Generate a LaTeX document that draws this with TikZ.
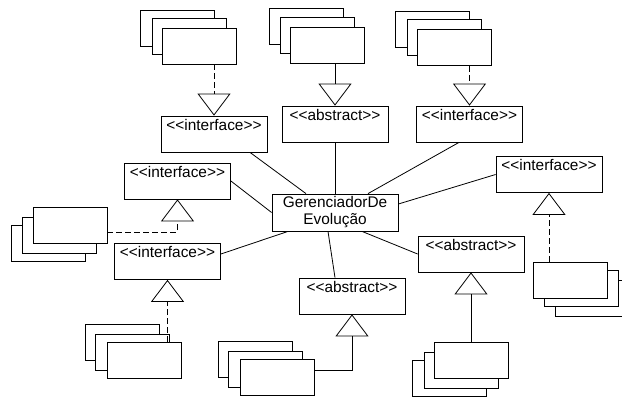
\documentclass[tikz,border=0pt]{standalone}
\usepackage{fontspec}
\newfontfamily\umlfont{Liberation Sans}
\usetikzlibrary{arrows.meta,calc}

\tikzset{
  uml/.style={x=1pt,y=-1pt,line width=0.8pt,font=\umlfont\fontsize{15.4}{17}\selectfont},
  classbox/.style={draw,fill=white,minimum width=106pt,minimum height=36pt,inner sep=0pt,text height=12pt,text depth=20pt},
  implbox/.style={draw,fill=white,minimum width=74pt,minimum height=36pt,inner sep=0pt},
  inherit/.style={-{Triangle[open,width=33pt,length=22pt]}},
  realize/.style={inherit,dash pattern=on 6pt off 3pt},
}

\begin{document}
\begin{tikzpicture}[uml]
\useasboundingbox (0,0) rectangle (622,397);

\node[classbox] (ifTop) at (214,134) {<<interface>>};
\node[classbox] (absTop) at (335,124) {<<abstract>>};
\node[classbox] (ifTopR) at (469.5,124) {<<interface>>};
\node[classbox] (ifLeft) at (177.5,181) {<<interface>>};
\node[classbox] (ifRight) at (549,174.5) {<<interface>>};
\node[classbox] (ifLow) at (167.5,261.5) {<<interface>>};
\node[classbox] (absBot) at (352,296) {<<abstract>>};
\node[classbox] (absBotR) at (471,254) {<<abstract>>};
\node[draw,fill=white,minimum width=126pt,minimum height=37pt,inner sep=0pt,align=center] (hub) at (335,212.5) {GerenciadorDe\\Evolução};

\node[implbox] (ifTopC) at (177,28.5) {};
\node[implbox] (ifTopB) at (189,36) {};
\node[implbox] (ifTopA) at (199,46) {};
\node[implbox] (absTopC) at (306,26.5) {};
\node[implbox] (absTopB) at (317.5,35) {};
\node[implbox] (absTopA) at (327.5,45) {};
\node[implbox] (ifTopRC) at (432,29.5) {};
\node[implbox] (ifTopRB) at (444,37) {};
\node[implbox] (ifTopRA) at (454.5,47.5) {};
\node[implbox] (ifRightC) at (592.5,298) {};
\node[implbox] (ifRightB) at (581.5,288) {};
\node[implbox] (ifRightA) at (570.5,280) {};
\node[implbox] (absBotRC) at (449.5,378) {};
\node[implbox] (absBotRB) at (461,370) {};
\node[implbox] (absBotRA) at (471,360) {};
\node[implbox] (absBotC) at (255,359.5) {};
\node[implbox] (absBotB) at (265,369.5) {};
\node[implbox] (absBotA) at (277,377.5) {};
\node[implbox] (ifLowC) at (122,342.5) {};
\node[implbox] (ifLowB) at (132.5,352.5) {};
\node[implbox] (ifLowA) at (144,360.5) {};
\node[implbox] (ifLeftC) at (48.5,243.5) {};
\node[implbox] (ifLeftB) at (59.5,235) {};
\node[implbox] (ifLeftA) at (70,225) {};

\draw[realize] (ifTopA.south -| ifTop.north) -- (ifTop.north);
\draw[inherit] (absTopA.south -| absTop.north) -- (absTop.north);
\draw[realize] (ifTopRA.south -| ifTopR.north) -- (ifTopR.north);
\draw[realize] (ifRightA.north -| ifRight.south) -- (ifRight.south);
\draw[inherit] (absBotRA.north -| absBotR.south) -- (absBotR.south);
\draw[inherit] ([yshift=7.5pt]absBotA.east) -| (absBot.south);
\draw[realize] (ifLowA.north -| ifLow.south) -- (ifLow.south);
\draw[realize] ([yshift=-7pt]ifLeftA.east) -| (ifLeft.south);

\draw ([xshift=36pt]ifTop.south) -- ([xshift=-29pt]hub.north);
\draw (absTop.south) -- (hub.north);
\draw ([xshift=-10.5pt]ifTopR.south) -- ([xshift=33pt]hub.north);
\draw (ifLeft.east) -- (hub.west);
\draw (ifRight.west) -- ([yshift=8.5pt]hub.east);
\draw ([yshift=7.5pt]ifLow.east) -- ([xshift=-47pt]hub.south);
\draw ([xshift=-17pt]absBot.north) -- ([xshift=-7pt]hub.south);
\draw (absBotR.west) -- ([xshift=27pt]hub.south);
\end{tikzpicture}
\end{document}
